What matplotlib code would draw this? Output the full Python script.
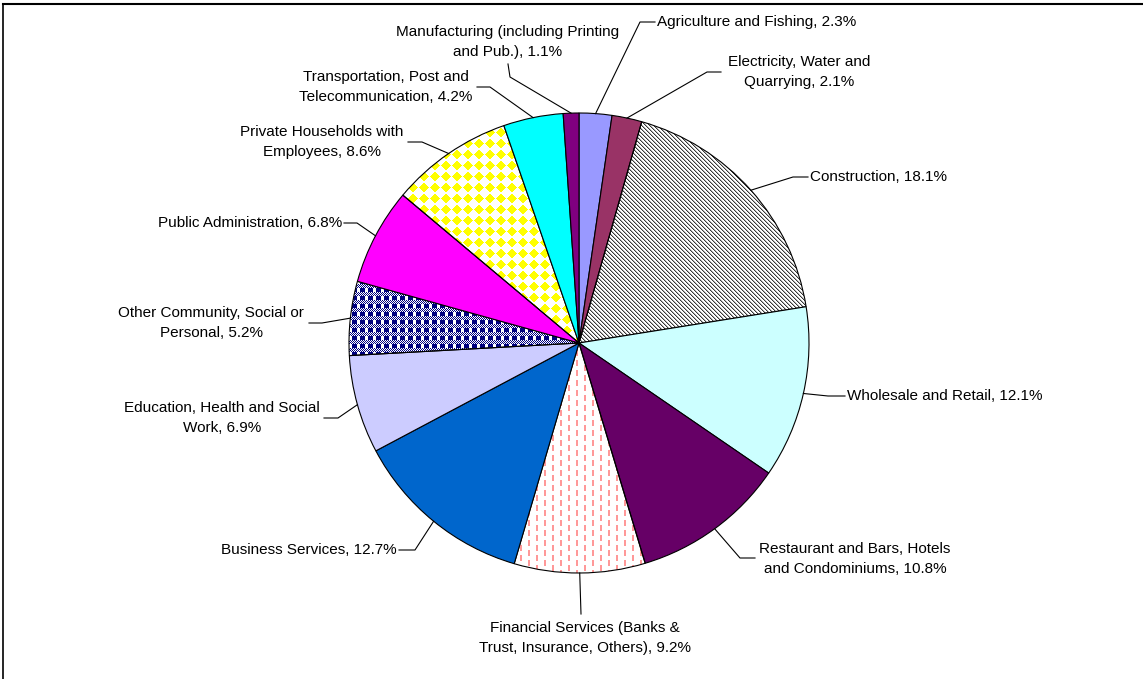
import numpy as np
import matplotlib.pyplot as plt

plt.rcParams['font.family'] = ['Liberation Sans', 'DejaVu Sans']

# data, clockwise from 12 o'clock
categories = ["Agriculture and Fishing",
              "Electricity, Water and\nQuarrying",
              "Construction",
              "Wholesale and Retail",
              "Restaurant and Bars, Hotels\nand Condominiums",
              "Financial Services (Banks &\nTrust, Insurance, Others)",
              "Business Services",
              "Education, Health and Social\nWork",
              "Other Community, Social or\nPersonal",
              "Public Administration",
              "Private Households with\nEmployees",
              "Transportation, Post and\nTelecommunication",
              "Manufacturing (including Printing\nand Pub.)"]
shares = [2.3, 2.1, 18.1, 12.1, 10.8, 9.2, 12.7, 6.9, 5.2, 6.8, 8.6, 4.2, 1.1]

colors = ['#9999FF', '#993366', 'white', '#CCFFFF', '#660066', 'white', '#0066CC',
          '#CCCCFF', '#000080', '#FF00FF', 'white', '#00FFFF', '#800080']
textures = {2: 'stripes', 5: 'dashes', 8: 'plaid', 10: 'diamonds'}

# label placement in pixels (y from top): text anchor, then leader elbow/end points
label_pos = [(657, 22, 'left'), (799, 72, 'center'), (810, 177, 'left'), (847, 396, 'left'),
             (855, 559, 'center'), (585, 638, 'center'), (397, 550, 'right'), (222, 418, 'center'),
             (211, 323, 'center'), (342, 223, 'right'), (322, 142, 'center'), (386, 87, 'center'),
             (508, 42, 'center')]
leader_pts = [[(640, 22), (655, 22)], [(707, 72), (721, 72)], [(793, 177), (808, 177)],
              [(828, 396), (845, 396)], [(740, 558), (755, 558)], [(581, 614)],
              [(415, 550), (399, 550)], [(338, 418), (324, 418)], [(322, 323), (309, 323)],
              [(357, 223), (344, 223)], [(422, 142), (408, 142)], [(490, 87), (477, 87)],
              [(510, 77), (508, 64)]]

W, H = 1143, 679
fig = plt.figure(figsize=(W / 100, H / 100), dpi=100)
ax = fig.add_axes([0, 0, 1, 1])
cx, cy_top, R = 579, 343, 230
cy = H - cy_top

wedges, _ = ax.pie(shares, colors=colors, startangle=90, counterclock=False,
                   radius=R, center=(cx, cy),
                   wedgeprops=dict(edgecolor='black', linewidth=0.8, zorder=2))


def make_texture(kind):
    yy, xx = np.mgrid[0:2 * R, 0:2 * R]
    px = xx + (cx - R)
    py = yy + (cy_top - R)
    img = np.ones((2 * R, 2 * R, 3))
    if kind == 'stripes':
        m = (px - py) % 4 == 0
        img[m] = [0.22, 0.22, 0.22]
        m2 = (px - py) % 4 == 1
        img[m2] = [0.7, 0.7, 0.7]
    elif kind == 'dashes':
        col = px % 8
        m = (col < 2) & (((py + 5 * ((px // 8) % 2)) % 10) < 6)
        img[m] = [1.0, 0.6, 0.6]
    elif kind == 'plaid':
        navy = [0, 0, 0.5]
        a = px % 8
        b = py % 8
        m_sq = (b < 4) & (a < 4)
        m_band = (b >= 4) & ((px + py) % 2 == 0)
        m_vband = (b < 4) & (a >= 4) & (a < 5)
        img[m_sq | m_band | m_vband] = navy
    elif kind == 'diamonds':
        s = 11.0
        u = (px + py) / s
        v = (px - py) / s
        fu = u - np.floor(u)
        fv = v - np.floor(v)
        par = (np.floor(u) + np.floor(v)) % 2 == 0
        m = par & (np.abs(fu - 0.5) < 0.45) & (np.abs(fv - 0.5) < 0.45)
        img[m] = [1, 1, 0]
    return img


for i, kind in textures.items():
    wedges[i].set_facecolor('none')
    im = ax.imshow(make_texture(kind), extent=(cx - R, cx + R, cy - R, cy + R),
                   origin='upper', interpolation='nearest', zorder=1)
    im.set_clip_path(wedges[i])

for i, w in enumerate(wedges):
    ang = np.deg2rad((w.theta1 + w.theta2) / 2)
    xs = [cx + R * np.cos(ang)] + [p[0] for p in leader_pts[i]]
    ys = [cy + R * np.sin(ang)] + [H - p[1] for p in leader_pts[i]]
    ax.plot(xs, ys, color='black', lw=0.8, zorder=3)
    tx, ty, ha = label_pos[i]
    ax.text(tx, H - ty, f"{categories[i]}, {shares[i]}%", ha=ha, va='center',
            ma='center', fontsize=11, linespacing=1.55, color='black')

# frame of the original chart area
ax.plot([3, 3], [0, H - 4], color='black', lw=1.2)
ax.plot([3, W], [H - 4, H - 4], color='black', lw=1.5)

ax.set_xlim(0, W)
ax.set_ylim(0, H)
ax.set_aspect('auto')
ax.axis('off')

fig.savefig('out.png', dpi=100)
